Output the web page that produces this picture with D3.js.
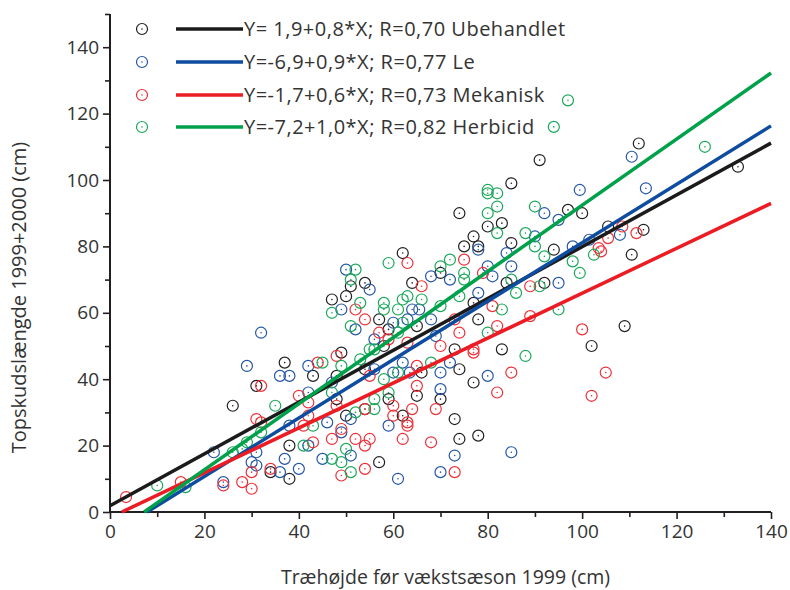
<!DOCTYPE html>
<html>
<head>
<meta charset="utf-8">
<script src="https://cdn.jsdelivr.net/npm/d3@7"></script>
<style>
  body { margin: 0; background: #fff; }
  svg { display: block; font-family: "Open Sans", "Noto Sans", sans-serif; }
</style>
</head>
<body>
<svg id="chart" width="790" height="590"></svg>
<script>
// Data (x = træhøjde 1999, y = topskudslængde 1999+2000)
const ubehandlet = [
  [47,64],[50,65],[37,45],[43,41],[31,38],[26,32],[49,48],[48,41],[48,34],[50,29],
  [38,20],[34,12],[38,10],[57,58],[65,56],[77,63],[78,58],[59,55],[58,50],[73,49],
  [83,49],[74,43],[66,42],[54,43],[77,39],[65,35],[70,34],[59,34],[54,31],[62,29],
  [73,28],[74,22],[78,23],[57,15],[109,56],[102,50],[91,106],[85,99],[74,90],[83,87],
  [80,86],[77,83],[75,80],[78,80],[85,81],[62,78],[70,72],[84,69],[64,69],[54,69],
  [51,68],[112,111],[133,104],[97,91],[100,90],[105.5,86],[113,85],[94,79],[110.5,77.5],[92,69]
];
const le = [
  [49,61],[32,54],[29,44],[36,41],[38,41],[42,44],[42,36],[47,39],[38,26],[46,27],
  [51,28],[49,24],[51,17],[42,20],[22,18],[31,18],[30,15],[31,14],[37,16],[45,16],
  [36,12],[40,13],[24,9],[52,55],[55,67],[64,61],[65.5,61],[60,57],[63,58],[68,58],
  [78,66],[56,52],[69,53],[62,45],[72,45],[70,42],[63.5,42],[60,42],[56,43],[80,41],
  [70,37],[59,26],[61,10],[70,12],[73,17],[85,18],[78,79],[90,83],[84,78],[68,71],
  [72,70],[80,74],[81,71],[85,74],[50,73],[110.5,107],[99.5,97],[113.5,97.5],[92,90],[95,88],
  [108,83.5],[101.5,82],[98,80],[95,69]
];
const mekanisk = [
  [52,61],[54,58],[44,45],[32,38],[40,35],[42,33],[48,47],[48,32],[31,28],[32,27],
  [41,26],[42,29],[54,31],[49,25],[47,22],[52,22],[54,20],[43,21],[30,12],[34,13],
  [49,11],[54,13],[24,8],[28,9],[30,7],[73,58],[74,54],[82,56],[81,62],[89,59],
  [57,54],[59,52],[63,51],[70,50],[77,49],[77,48],[65,44],[55,41],[85,42],[65,38],
  [82,36],[60,32],[64,31],[69,31],[60,29],[63,27],[63,26],[55,22],[62,22],[68,21],
  [73,12],[100,55],[105,42],[102,35],[63,75],[75,76],[79,72],[89,68],[66,68],[108.5,86],
  [105.5,82.5],[111.5,84],[103.5,79.5],[104,78.5],[15,9],[3.4,4.5]
];
const herbicid = [
  [47,60],[53,63],[51,56],[45,45],[35,32],[49,44],[47,36],[32,24],[43,26],[52,30],
  [50,19],[41,20],[26,18],[28,19],[29,21],[47,16],[49,15],[51,12],[58,63],[58,61],
  [62,64],[63,65],[61,61],[66,64],[62,57],[70,62],[74,65],[86,66],[83,61],[80,54],
  [61,54],[55,49],[56,49],[88,47],[53,46],[68,45],[61,42],[58,40],[59,36],[56,34],
  [56,31],[95,61],[80,97],[80,96],[82,96],[80,90],[82,92],[82,84],[90,92],[88,84],
  [59,75],[70,74],[72,76],[75,72],[75,70],[85,70],[52,73],[51,70],[97,124],[94,116],
  [126,110],[92,77],[90,80],[102.5,77.5],[98,75.5],[99.5,72],[91,68],[16,7.5],[10,8]
];

const seriesNames = ["Ubehandlet", "Le", "Mekanisk", "Herbicid"];
const legendLabels = [
  "Y= 1,9+0,8*X; R=0,70 Ubehandlet",
  "Y=-6,9+0,9*X; R=0,77 Le",
  "Y=-1,7+0,6*X; R=0,73 Mekanisk",
  "Y=-7,2+1,0*X; R=0,82 Herbicid"
];
// regressionslinjer som de er tegnet
const intercepts = [1.9, -6.9, -1.7, -7.2];
const slopes = [0.78, 0.88, 0.676, 0.996];

const xTicks = [0, 20, 40, 60, 80, 100, 120, 140];
const yTicks = [0, 20, 40, 60, 80, 100, 120, 140];

const pointColors = ["#231f20", "#2456a8", "#ee2f37", "#1aa85a"];
const lineColors = ["#1b1b1b", "#0d4c9f", "#ec1c24", "#00a14b"];

const svg = d3.select("#chart");

const x = d3.scaleLinear().domain([0, 140]).range([110, 771]);
const y = d3.scaleLinear().domain([0, 150]).range([512, 14]);

// Akser
const axisColor = "#231f20";
const xAxis = svg.append("g").attr("transform", `translate(0,${y(0)})`)
  .call(d3.axisBottom(x).tickValues(d3.range(0, 141, 10)).tickSize(7).tickPadding(6)
    .tickFormat(d => xTicks.includes(d) ? d : ""));
const yAxis = svg.append("g").attr("transform", `translate(${x(0)},0)`)
  .call(d3.axisLeft(y).tickValues(d3.range(0, 151, 10)).tickSize(7).tickPadding(4)
    .tickFormat(d => yTicks.includes(d) ? d : ""));

[xAxis, yAxis].forEach(a => {
  a.select(".domain").attr("stroke", axisColor).attr("stroke-width", 2);
  a.selectAll(".tick line").attr("stroke", axisColor).attr("stroke-width", 1.6);
  a.selectAll(".tick text").attr("fill", "#333").style("font-size", "19px")
    .style("font-family", "'Open Sans', sans-serif");
});
// korte mellemstreger
xAxis.selectAll(".tick").filter(d => !xTicks.includes(d)).select("line").attr("y2", 5);
yAxis.selectAll(".tick").filter(d => !yTicks.includes(d)).select("line").attr("x2", -5);
xAxis.select(".domain").attr("d", `M${x(0)},0H${x(140)}`);
yAxis.select(".domain").attr("d", `M0,${y(0)}V${y(150)}`);

// Aksetitler
svg.append("text")
  .attr("x", (x(0) + x(140)) / 2 + 5).attr("y", 584)
  .attr("text-anchor", "middle").attr("fill", "#333").style("font-size", "19.5px")
  .text("Træhøjde før vækstsæson 1999 (cm)");
svg.append("text")
  .attr("transform", `translate(26,${y(64.6)}) rotate(-90)`)
  .attr("text-anchor", "middle").attr("fill", "#333").style("font-size", "20px")
  .text("Topskudslængde 1999+2000 (cm)");

// Punkter
const allSeries = [ubehandlet, le, mekanisk, herbicid];
allSeries.forEach((data, i) => {
  const g = svg.append("g").attr("class", "pts " + seriesNames[i]);
  const p = g.selectAll("g").data(data).enter().append("g")
    .attr("transform", d => `translate(${x(d[0])},${y(d[1])})`);
  p.append("circle").attr("r", 5.5).attr("fill", "none")
    .attr("stroke", pointColors[i]).attr("stroke-width", 1.2);
  p.append("circle").attr("r", 0.8).attr("fill", pointColors[i]);
});

// Regressionslinjer
const line = d3.line().x(d => x(d[0])).y(d => y(d[1]));
intercepts.forEach((a, i) => {
  const b = slopes[i];
  const x0 = Math.max(0, -a / b);
  svg.append("path")
    .attr("d", line([[x0, a + b * x0], [140, a + b * 140]]))
    .attr("stroke", lineColors[i]).attr("stroke-width", 3.5).attr("fill", "none");
});

// Signaturforklaring
const legendY = [29, 62, 95, 127];
const legend = svg.append("g");
legendLabels.forEach((lab, i) => {
  const row = legend.append("g").attr("transform", `translate(0,${legendY[i]})`);
  row.append("circle").attr("cx", 142).attr("r", 5.5).attr("fill", "none")
    .attr("stroke", pointColors[i]).attr("stroke-width", 1.2);
  row.append("circle").attr("cx", 142).attr("r", 0.8).attr("fill", pointColors[i]);
  row.append("line").attr("x1", 176).attr("x2", 243)
    .attr("stroke", lineColors[i]).attr("stroke-width", 3.5);
  row.append("text").attr("x", 244).attr("dy", "0.35em").attr("fill", "#333")
    .style("font-size", "20px").style("letter-spacing", "0.5px").text(lab);
});
</script>
</body>
</html>
